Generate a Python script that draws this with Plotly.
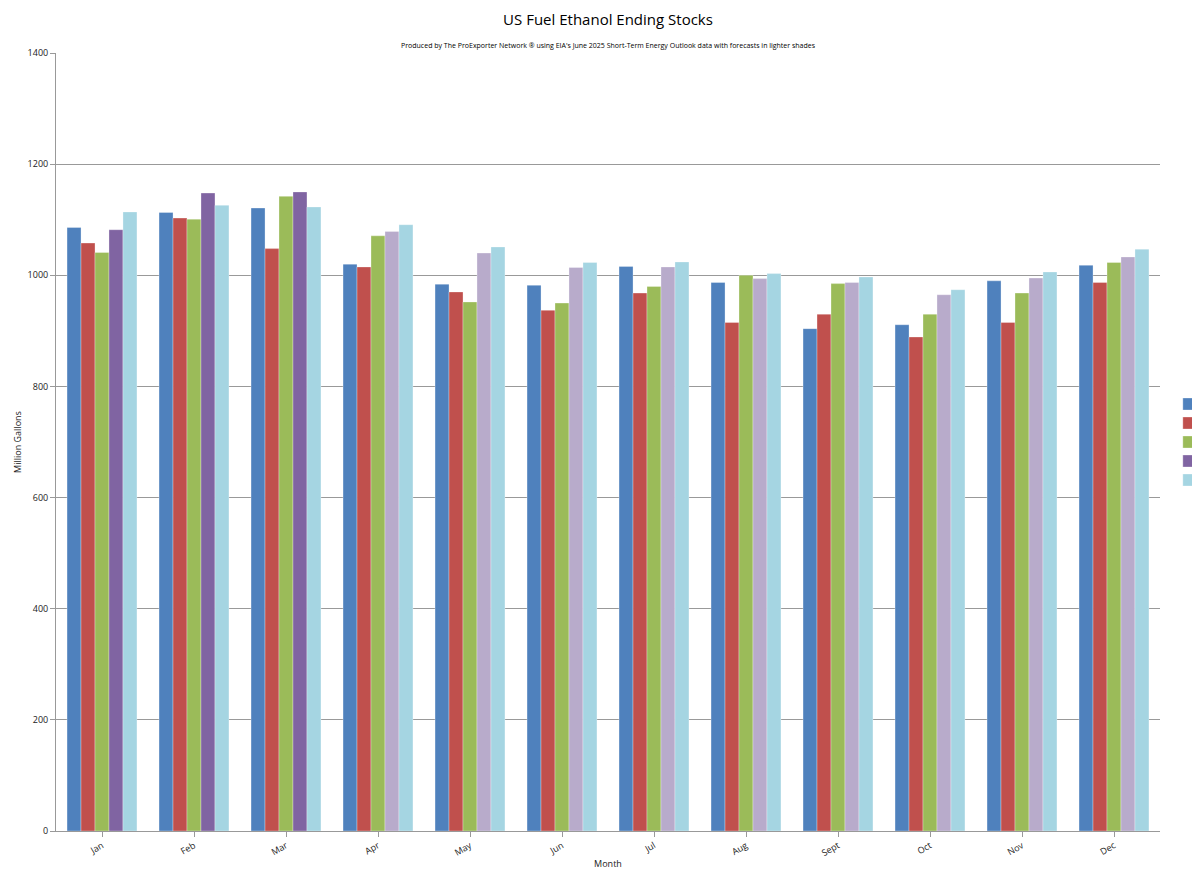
import plotly.graph_objs as go

months = ["Jan", "Feb", "Mar", "Apr", "May", "Jun", "Jul", "Aug", "Sept", "Oct", "Nov", "Dec"]
years = ["2022", "2023", "2024", "2025", "2026"]
s2022 = [1086, 1113, 1121, 1020, 984, 982, 1016, 987, 904, 911, 990, 1018]
s2023 = [1058, 1103, 1048, 1015, 970, 937, 968, 915, 930, 889, 915, 987]
s2024 = [1041, 1101, 1142, 1071, 952, 950, 980, 1000, 985, 930, 968, 1023]
s2025 = [1082, 1148, 1150, 1079, 1040, 1014, 1015, 994, 987, 965, 995, 1033]
s2026 = [1114, 1126, 1123, 1091, 1051, 1023, 1024, 1003, 997, 974, 1006, 1047]
actual_2025_months = 3  # Jan-Mar 2025 are actuals, rest forecast

series = [s2022, s2023, s2024, s2025, s2026]
colors = ["#4F81BD", "#C0504D", "#9BBB59", "#B8ABCB", "#A5D5E2"]
colors_2025 = ["#8064A2"] * actual_2025_months + ["#B8ABCB"] * (len(months) - actual_2025_months)

fig = go.Figure()
for i, (yr, vals) in enumerate(zip(years, series)):
    c = colors_2025 if yr == "2025" else colors[i]
    fig.add_trace(go.Bar(x=months, y=vals, name=yr, marker_color=c,
                         marker_line=dict(color="rgba(255,255,255,0.6)", width=0.5)))

fig.update_layout(
    width=1200, height=871,
    barmode="group", bargap=0.24, bargroupgap=0,
    paper_bgcolor="white", plot_bgcolor="white",
    font=dict(family="Open Sans, Liberation Sans", size=9, color="#222"),
    title=dict(text="US Fuel Ethanol Ending Stocks", x=0.5, xanchor="center", y=0.992, yanchor="top",
               font=dict(size=15, color="#000")),
    annotations=[dict(text="Produced by The ProExporter Network ® using EIA's June 2025 Short-Term Energy Outlook data with forecasts in lighter shades",
                      xref="paper", yref="paper", x=0.5, y=1.0, yshift=14, showarrow=False,
                      font=dict(size=7, color="#000"))],
    margin=dict(l=48, r=48, t=45, b=48, autoexpand=False),
    legend=dict(x=1.008, y=0.5, xanchor="left", yanchor="middle", font=dict(size=9),
                itemwidth=30, tracegroupgap=2),
    xaxis=dict(title=dict(text="Month", font=dict(size=9), standoff=2), tickangle=-30, automargin=False,
               showline=True, linecolor="#999", ticks="outside", tickcolor="#999"),
    yaxis=dict(title=dict(text="Million Gallons", font=dict(size=9), standoff=4), range=[0, 1400], dtick=200,
               automargin=False, gridcolor="#999", showline=True, linecolor="#999",
               ticks="outside", tickcolor="#999"),
)
fig.write_html("out.html")
